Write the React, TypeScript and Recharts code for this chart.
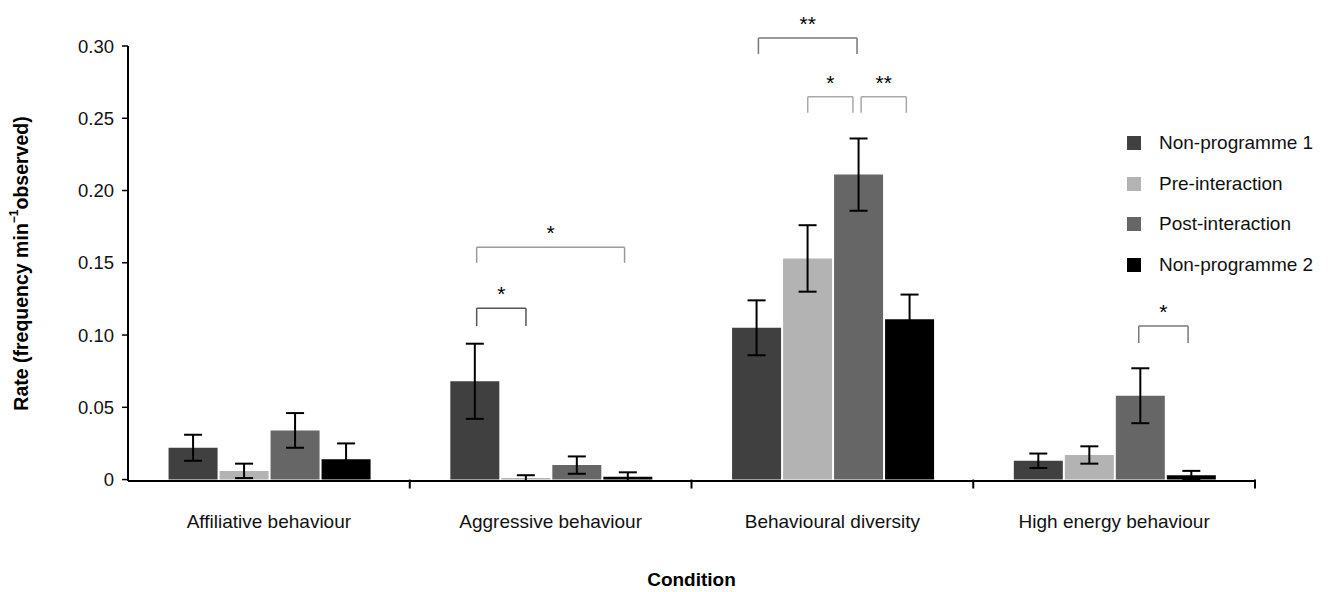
import React from 'react';
import { ComposedChart, Bar, XAxis, YAxis, ErrorBar, ReferenceLine, Label } from 'recharts';

const categories = ['Affiliative behaviour', 'Aggressive behaviour', 'Behavioural diversity', 'High energy behaviour'];
const seriesNames = ['Non-programme 1', 'Pre-interaction', 'Post-interaction', 'Non-programme 2'];
const seriesKeys = ['np1', 'pre', 'post', 'np2'];
const seriesColors = ['#404040', '#b3b3b3', '#666666', '#000000'];

const nonProgramme1 = [0.022, 0.068, 0.105, 0.013];
const nonProgramme1Err = [0.009, 0.026, 0.019, 0.005];
const preInteraction = [0.006, 0.001, 0.153, 0.017];
const preInteractionErr = [0.005, 0.002, 0.023, 0.006];
const postInteraction = [0.034, 0.010, 0.211, 0.058];
const postInteractionErr = [0.012, 0.006, 0.025, 0.019];
const nonProgramme2 = [0.014, 0.002, 0.111, 0.003];
const nonProgramme2Err = [0.011, 0.003, 0.017, 0.003];

const yTicks = [0, 0.05, 0.1, 0.15, 0.2, 0.25, 0.3];
const categoryBoundaries = [1, 2, 3, 4];

// significance brackets, in (category-position, value) coordinates
const brackets = [
  { x1: 1.2375, x2: 1.4125, y: 0.1186, drop: 0.0124, label: '*', color: '#555555' },
  { x1: 1.2375, x2: 1.7625, y: 0.1607, drop: 0.0107, label: '*', color: '#9a9a9a' },
  { x1: 2.2375, x2: 2.5875, y: 0.3055, drop: 0.011, label: '**', color: '#777777' },
  { x1: 2.4125, x2: 2.573, y: 0.2648, drop: 0.011, label: '*', color: '#a8a8a8' },
  { x1: 2.602, x2: 2.7625, y: 0.2648, drop: 0.011, label: '**', color: '#a8a8a8' },
  { x1: 3.5875, x2: 3.7625, y: 0.1062, drop: 0.0117, label: '*', color: '#7a7a7a' },
];

const values = [nonProgramme1, preInteraction, postInteraction, nonProgramme2];
const errors = [nonProgramme1Err, preInteractionErr, postInteractionErr, nonProgramme2Err];

const data = categories.map((c, i) => {
  const row: any = { category: c, idx: i + 0.5 };
  seriesKeys.forEach((k, s) => {
    row[k] = values[s][i];
    row[k + 'Err'] = errors[s][i];
  });
  return row;
});

const FONT = '"Liberation Sans", Arial, sans-serif';

const YLabel = (props: any) => {
  const vb = props.viewBox || {};
  const cx = vb.x + 13;
  const cy = vb.y + vb.height / 2;
  return (
    <text
      x={0}
      y={0}
      transform={`translate(${cx},${cy}) rotate(-90)`}
      textAnchor="middle"
      dominantBaseline="central"
      fontFamily={FONT}
      fontWeight="bold"
      fontSize={19.5}
      fill="#000"
    >
      Rate (frequency min
      <tspan dy={-7} fontSize={12}>−1</tspan>
      <tspan dy={7}>observed)</tspan>
    </text>
  );
};

export default function App() {
  return (
    <div style={{ position: 'relative', width: 1312, height: 584, fontFamily: FONT }}>
      <ComposedChart
        width={1312}
        height={584}
        data={data}
        margin={{ top: 38, right: 65, bottom: 0, left: 0 }}
        barCategoryGap="14.4%"
        barGap={2}
      >
        <XAxis
          xAxisId="cat"
          dataKey="category"
          height={111}
          axisLine={{ stroke: '#000', strokeWidth: 2 }}
          tickLine={false}
          tickSize={0}
          tickMargin={34}
          tick={{ fontSize: 19, fill: '#111', fontFamily: FONT }}
          interval={0}
        >
          <Label value="Condition" position="insideBottom" offset={6} fontSize={19} fontWeight="bold" fill="#000" fontFamily={FONT} />
        </XAxis>
        <XAxis xAxisId="num" type="number" dataKey="idx" domain={[0, 4]} hide allowDataOverflow />
        <YAxis
          width={120}
          domain={[0, 0.3]}
          ticks={yTicks}
          interval={0}
          axisLine={{ stroke: '#000', strokeWidth: 2 }}
          tickLine={{ stroke: '#000', strokeWidth: 1.5 }}
          tickSize={6}
          tickMargin={8}
          tick={{ fontSize: 18.5, fill: '#111', fontFamily: FONT }}
          tickFormatter={(v: number) => (v === 0 ? '0' : v.toFixed(2))}
        >
          <Label content={<YLabel />} />
        </YAxis>
        {seriesKeys.map((k, s) => (
          <Bar key={k} xAxisId="cat" dataKey={k} name={seriesNames[s]} fill={seriesColors[s]} isAnimationActive={false}>
            <ErrorBar dataKey={k + 'Err'} width={9} stroke="#000" strokeWidth={2} direction="y" />
          </Bar>
        ))}
        {categoryBoundaries.map((b) => (
          <ReferenceLine
            key={'t' + b}
            xAxisId="num"
            ifOverflow="visible"
            stroke="#000"
            strokeWidth={2}
            segment={[{ x: b, y: 0 }, { x: b, y: -0.0062 }]}
          />
        ))}
        {brackets.map((br, i) => (
          <ReferenceLine
            key={'bl' + i}
            xAxisId="num"
            ifOverflow="visible"
            stroke={br.color}
            strokeWidth={1.5}
            segment={[{ x: br.x1, y: br.y - br.drop }, { x: br.x1, y: br.y }]}
          />
        ))}
        {brackets.map((br, i) => (
          <ReferenceLine
            key={'br' + i}
            xAxisId="num"
            ifOverflow="visible"
            stroke={br.color}
            strokeWidth={1.5}
            segment={[{ x: br.x2, y: br.y - br.drop }, { x: br.x2, y: br.y }]}
          />
        ))}
        {brackets.map((br, i) => (
          <ReferenceLine
            key={'bh' + i}
            xAxisId="num"
            ifOverflow="visible"
            stroke={br.color}
            strokeWidth={1.5}
            segment={[{ x: br.x1, y: br.y }, { x: br.x2, y: br.y }]}
            label={{ value: br.label, position: 'top', offset: 7, fontSize: 21, fill: '#000', fontFamily: FONT }}
          />
        ))}
      </ComposedChart>
      <div style={{ position: 'absolute', left: 1119, top: 115 }}>
        {seriesNames.map((n, s) => (
          <div key={n} style={{ display: 'flex', alignItems: 'center', height: 40.5, fontSize: 19, color: '#111' }}>
            <div style={{ width: 14, height: 14, background: seriesColors[s], marginRight: 18 }} />
            <span>{n}</span>
          </div>
        ))}
      </div>
    </div>
  );
}
